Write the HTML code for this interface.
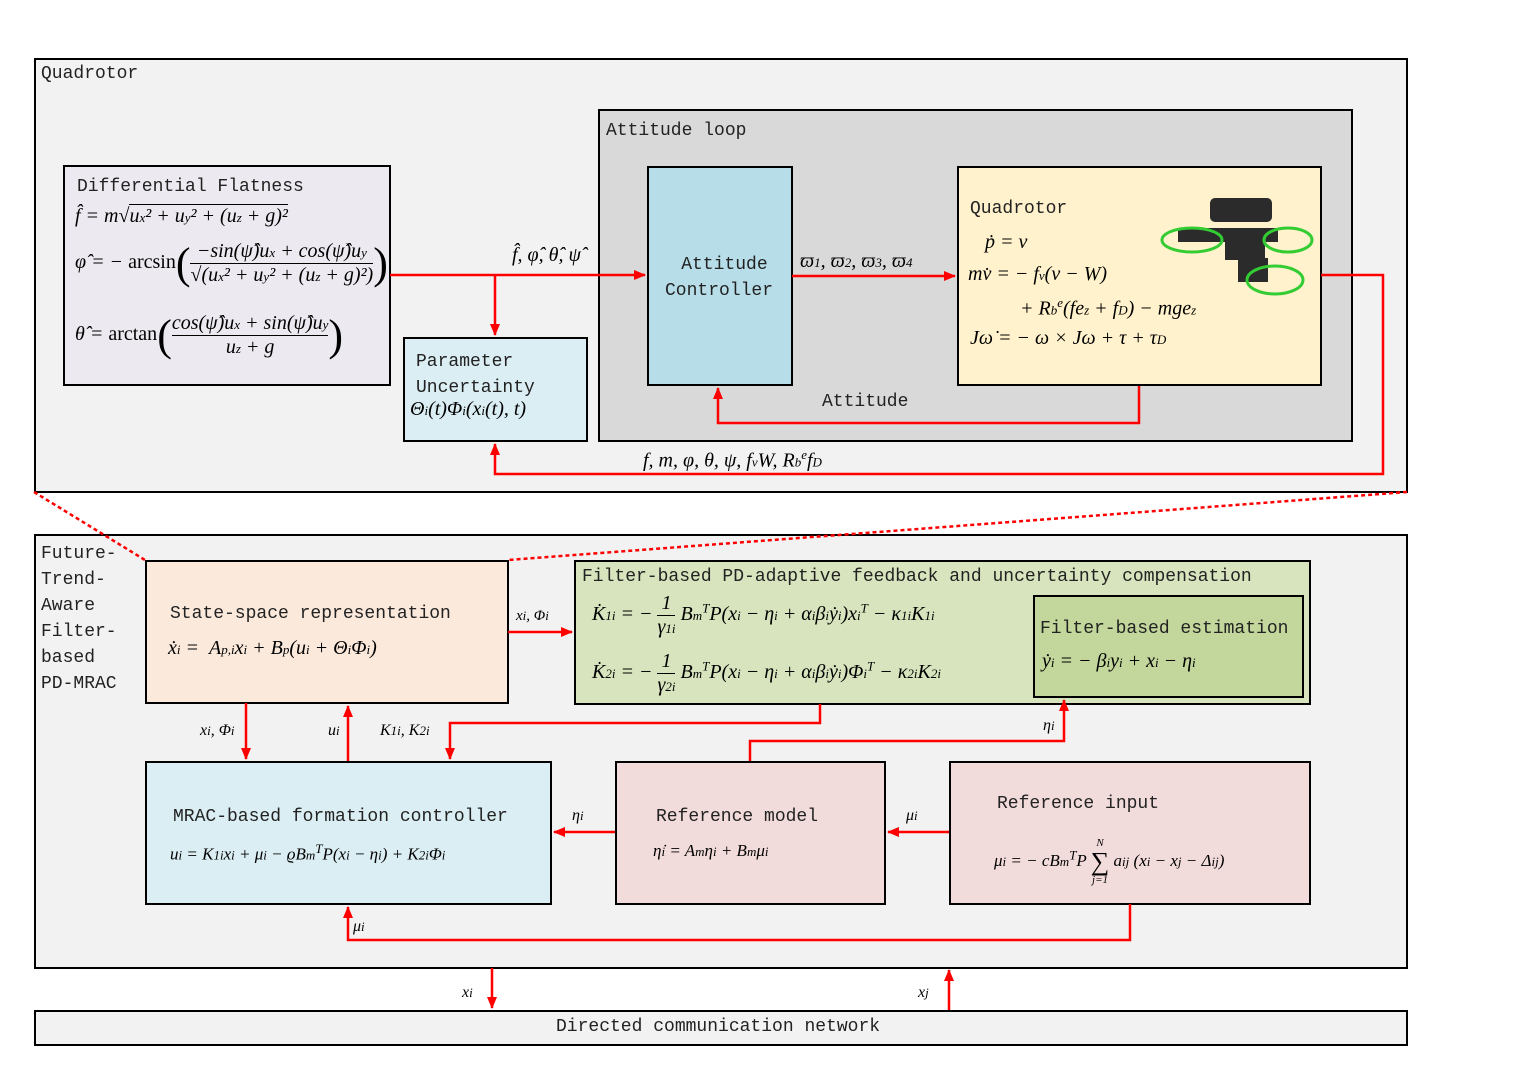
<!DOCTYPE html>
<html><head><meta charset="utf-8"><style>
body{margin:0;width:1527px;height:1080px;background:#fff;position:relative;overflow:hidden;font-family:"Liberation Serif",serif;}
.b{position:absolute;border:2px solid #000;box-sizing:border-box;}
.t{position:absolute;font-family:"Liberation Mono",monospace;font-size:18px;color:#222;white-space:nowrap;}
.m{position:absolute;font-family:"Liberation Serif",serif;font-style:italic;font-size:20px;color:#000;white-space:nowrap;}
.s{font-size:13px;}
.f{display:inline-block;vertical-align:middle;text-align:center;line-height:1.15;}
.f>span{display:block;}
.f>span+span{border-top:1.5px solid #000;}
.br{font-size:44px;font-style:normal;vertical-align:middle;font-weight:100;}
svg{position:absolute;left:0;top:0;}
</style></head><body>
<div class="b" style="left:34px;top:58px;width:1374px;height:435px;background:#f2f2f2"></div>
<div class="b" style="left:34px;top:534px;width:1374px;height:435px;background:#f2f2f2"></div>
<div class="b" style="left:34px;top:1010px;width:1374px;height:36px;background:#f2f2f2"></div>
<div class="b" style="left:63px;top:165px;width:328px;height:221px;background:#eceaf0"></div>
<div class="b" style="left:598px;top:109px;width:755px;height:333px;background:#d9d9d9"></div>
<div class="b" style="left:647px;top:166px;width:146px;height:220px;background:#b7dde8"></div>
<div class="b" style="left:957px;top:166px;width:365px;height:220px;background:#fff2cc"></div>
<div class="b" style="left:403px;top:337px;width:185px;height:105px;background:#dbeef3"></div>
<div class="b" style="left:145px;top:560px;width:364px;height:144px;background:#fbe9dc"></div>
<div class="b" style="left:574px;top:560px;width:737px;height:145px;background:#d7e4bd"></div>
<div class="b" style="left:1033px;top:595px;width:271px;height:103px;background:#c3d69b"></div>
<div class="b" style="left:145px;top:761px;width:407px;height:144px;background:#dbeef3"></div>
<div class="b" style="left:615px;top:761px;width:271px;height:144px;background:#f2dcdb"></div>
<div class="b" style="left:949px;top:761px;width:362px;height:144px;background:#f2dcdb"></div>

<svg width="1527" height="1080">
<defs><marker id="a" markerWidth="12" markerHeight="10" refX="11" refY="5" orient="auto" markerUnits="userSpaceOnUse"><path d="M0,0 L12,5 L0,10 z" fill="#f00"/></marker></defs>
<g stroke="#f00" stroke-width="2.5" fill="none" marker-end="url(#a)">
<path d="M390,275 H645"/>
<path d="M495,275 V335"/>
<path d="M792,276 H955"/>
<path d="M1139,386 V423 H718 V388"/>
<path d="M1321,275 H1383 V474 H495 V444"/>
<path d="M508,632 H572"/>
<path d="M246,703 V759"/>
<path d="M348,761 V706"/>
<path d="M820,704 V723 H450 V759"/>
<path d="M750,761 V741 H1064 V700"/>
<path d="M615,832 H554"/>
<path d="M949,832 H888"/>
<path d="M1130,904 V940 H348 V907"/>
<path d="M492,968 V1008"/>
<path d="M949,1010 V970"/>
</g>
<g stroke="#f00" stroke-width="2.5" stroke-dasharray="4,3">
<path d="M34,492 L145,560"/><path d="M1407,492 L508,560"/>
</g>
<g fill="#2b2b2b"><rect x="1210" y="198" width="62" height="24" rx="5"/><rect x="1178" y="228" width="100" height="14"/><rect x="1225" y="240" width="40" height="20"/><rect x="1238" y="258" width="30" height="24"/></g>
<g stroke="#3c3" stroke-width="3" fill="none"><ellipse cx="1192" cy="240" rx="30" ry="12"/><ellipse cx="1288" cy="240" rx="24" ry="12"/><ellipse cx="1275" cy="280" rx="28" ry="14"/></g>
</svg>

<div class="t" style="left:41px;top:64px">Quadrotor</div>
<div class="t" style="left:606px;top:121px">Attitude loop</div>
<div class="t" style="left:77px;top:177px">Differential Flatness</div>
<div class="m" style="left:75px;top:204px">f̂ = m√<span style="display:inline-block;border-top:1.5px solid #000;line-height:1.1">u<span class="s">x</span>² + u<span class="s">y</span>² + (u<span class="s">z</span> + g)²</span></div>
<div class="m" style="left:75px;top:238px">φ̂ = − <span style="font-style:normal">arcsin</span><span class="br">(</span><span class="f"><span>−sin(ψ̂)u<span class="s">x</span> + cos(ψ̂)u<span class="s">y</span></span><span>√(u<span class="s">x</span>² + u<span class="s">y</span>² + (u<span class="s">z</span> + g)²)</span></span><span class="br">)</span></div>
<div class="m" style="left:75px;top:310px">θ̂ = <span style="font-style:normal">arctan</span><span class="br">(</span><span class="f"><span>cos(ψ̂)u<span class="s">x</span> + sin(ψ̂)u<span class="s">y</span></span><span>u<span class="s">z</span> + g</span></span><span class="br">)</span></div>
<div class="m" style="left:512px;top:244px">f̂, φ̂, θ̂, ψ̂</div>
<div class="t" style="left:665px;top:252px;line-height:26px;text-align:center">&nbsp;Attitude<br>Controller</div>
<div class="m" style="left:800px;top:250px">ϖ<span class="s">1</span>, ϖ<span class="s">2</span>, ϖ<span class="s">3</span>, ϖ<span class="s">4</span></div>
<div class="t" style="left:970px;top:199px">Quadrotor</div>
<div class="m" style="left:985px;top:231px">ṗ = v</div>
<div class="m" style="left:968px;top:263px">mv̇ = − f<span class="s">v</span>(v − W)</div>
<div class="m" style="left:1020px;top:295px">+ R<span class="s">b</span><sup class="s">e</sup>(fe<span class="s">z</span> + f<span class="s">D</span>) − mge<span class="s">z</span></div>
<div class="m" style="left:970px;top:327px">Jω̇ = − ω × Jω + τ + τ<span class="s">D</span></div>
<div class="t" style="left:822px;top:392px">Attitude</div>
<div class="t" style="left:416px;top:349px;line-height:26px">Parameter<br>Uncertainty</div>
<div class="m" style="left:410px;top:398px">Θ<span class="s">i</span>(t)Φ<span class="s">i</span>(x<span class="s">i</span>(t), t)</div>
<div class="m" style="left:643px;top:447px">f, m, φ, θ, ψ, f<span class="s">v</span>W, R<span class="s">b</span><sup class="s">e</sup>f<span class="s">D</span></div>

<div class="t" style="left:41px;top:541px;line-height:26px">Future-<br>Trend-<br>Aware<br>Filter-<br>based<br>PD-MRAC</div>
<div class="t" style="left:170px;top:604px">State-space representation</div>
<div class="m" style="left:168px;top:637px">ẋ<span class="s">i</span> = &nbsp;A<span class="s">p,i</span>x<span class="s">i</span> + B<span class="s">p</span>(u<span class="s">i</span> + Θ<span class="s">i</span>Φ<span class="s">i</span>)</div>
<div class="m" style="left:516px;top:608px;font-size:15px">x<span class="s">i</span>, Φ<span class="s">i</span></div>
<div class="t" style="left:582px;top:567px">Filter-based PD-adaptive feedback and uncertainty compensation</div>
<div class="m" style="left:592px;top:592px">K̇<span class="s">1i</span> = − <span class="f"><span>1</span><span>γ<span class="s">1i</span></span></span> B<span class="s">m</span><sup class="s">T</sup>P(x<span class="s">i</span> − η<span class="s">i</span> + α<span class="s">i</span>β<span class="s">i</span>ẏ<span class="s">i</span>)x<span class="s">i</span><sup class="s">T</sup> − κ<span class="s">1i</span>K<span class="s">1i</span></div>
<div class="m" style="left:592px;top:650px">K̇<span class="s">2i</span> = − <span class="f"><span>1</span><span>γ<span class="s">2i</span></span></span> B<span class="s">m</span><sup class="s">T</sup>P(x<span class="s">i</span> − η<span class="s">i</span> + α<span class="s">i</span>β<span class="s">i</span>ẏ<span class="s">i</span>)Φ<span class="s">i</span><sup class="s">T</sup> − κ<span class="s">2i</span>K<span class="s">2i</span></div>
<div class="t" style="left:1040px;top:619px">Filter-based estimation</div>
<div class="m" style="left:1042px;top:650px">ẏ<span class="s">i</span> = − β<span class="s">i</span>y<span class="s">i</span> + x<span class="s">i</span> − η<span class="s">i</span></div>
<div class="m" style="left:200px;top:722px;font-size:16px">x<span class="s">i</span>, Φ<span class="s">i</span></div>
<div class="m" style="left:328px;top:722px;font-size:16px">u<span class="s">i</span></div>
<div class="m" style="left:380px;top:722px;font-size:16px">K<span class="s">1i</span>, K<span class="s">2i</span></div>
<div class="m" style="left:1043px;top:717px;font-size:16px">η<span class="s">i</span></div>
<div class="t" style="left:173px;top:807px">MRAC-based formation controller</div>
<div class="m" style="left:170px;top:841px;font-size:17px">u<span class="s">i</span> = K<span class="s">1i</span>x<span class="s">i</span> + μ<span class="s">i</span> − ϱB<span class="s">m</span><sup class="s">T</sup>P(x<span class="s">i</span> − η<span class="s">i</span>) + K<span class="s">2i</span>Φ<span class="s">i</span></div>
<div class="m" style="left:572px;top:807px;font-size:16px">η<span class="s">i</span></div>
<div class="t" style="left:656px;top:807px">Reference model</div>
<div class="m" style="left:653px;top:841px;font-size:17px">η̇<span class="s">i</span> = A<span class="s">m</span>η<span class="s">i</span> + B<span class="s">m</span>μ<span class="s">i</span></div>
<div class="m" style="left:906px;top:807px;font-size:16px">μ<span class="s">i</span></div>
<div class="t" style="left:997px;top:794px">Reference input</div>
<div class="m" style="left:994px;top:838px;font-size:17px">μ<span class="s">i</span> = − cB<span class="s">m</span><sup class="s">T</sup>P <span class="f" style="font-size:11px;line-height:1"><span>N</span><span style="border:0;font-size:26px;font-style:normal">∑</span><span style="border:0">j=1</span></span> a<span class="s">ij</span> (x<span class="s">i</span> − x<span class="s">j</span> − Δ<span class="s">ij</span>)</div>
<div class="m" style="left:353px;top:918px;font-size:16px">μ<span class="s">i</span></div>
<div class="m" style="left:462px;top:984px;font-size:16px">x<span class="s">i</span></div>
<div class="m" style="left:918px;top:984px;font-size:16px">x<span class="s">j</span></div>
<div class="t" style="left:556px;top:1017px">Directed communication network</div>
</body></html>
